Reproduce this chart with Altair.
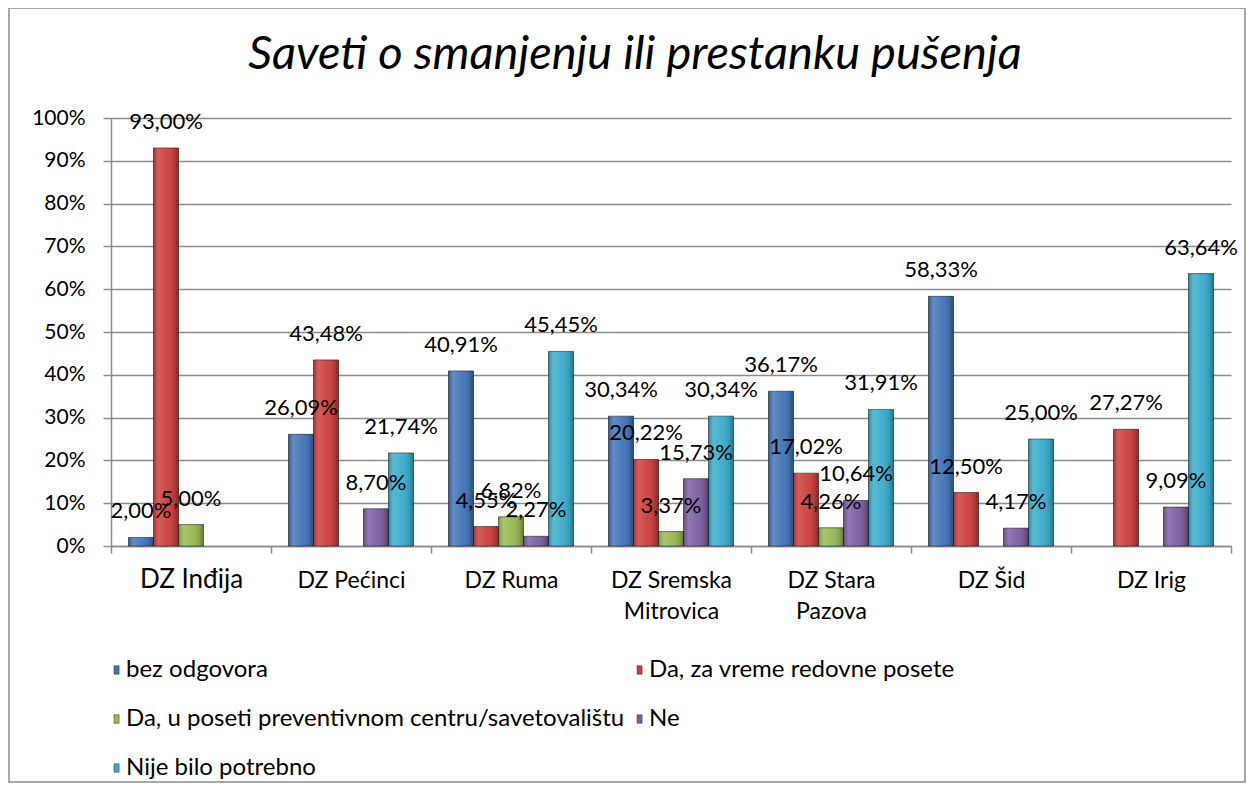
import altair as alt
import pandas as pd

categories = ["DZ Inđija", "DZ Pećinci", "DZ Ruma", "DZ Sremska Mitrovica",
              "DZ Stara Pazova", "DZ Šid", "DZ Irig"]
series = ["bez odgovora", "Da, za vreme redovne posete",
          "Da, u poseti preventivnom centru/savetovalištu", "Ne", "Nije bilo potrebno"]

bez_odgovora = [2.00, 26.09, 40.91, 30.34, 36.17, 58.33, 0.0]
da_redovne = [93.00, 43.48, 4.55, 20.22, 17.02, 12.50, 27.27]
da_preventivno = [5.00, 0.0, 6.82, 3.37, 4.26, 0.0, 0.0]
ne = [0.0, 8.70, 2.27, 15.73, 10.64, 4.17, 9.09]
nije_potrebno = [0.0, 21.74, 45.45, 30.34, 31.91, 25.00, 63.64]

colors = ["#4274b8", "#cb3f3c", "#98b954", "#7d5ea3", "#3aaccb"]
y_ticks = list(range(0, 101, 10))

rows = []
for s, vals in zip(series, [bez_odgovora, da_redovne, da_preventivno, ne, nije_potrebno]):
    for c, v in zip(categories, vals):
        rows.append({"cat": c, "series": s, "value": v})
df = pd.DataFrame(rows)

FONT = "Lato"
W, H = 1120, 428

x_enc = alt.X(
    "cat:N", sort=categories, title=None,
    scale=alt.Scale(domain=categories, paddingInner=0, paddingOuter=0),
    axis=alt.Axis(
        labelAngle=0, tickBand="extent", tickSize=7, tickColor="#8c8c8c",
        domainColor="#8c8c8c", domainWidth=1.5, tickWidth=1.5,
        labelFont=FONT, labelColor="#000000",
        labelFontSize={"condition": {"test": "datum.value == 'DZ Inđija'", "value": 26}, "value": 23},
        labelBaseline="alphabetic", labelPadding=34, labelLineHeight=31,
        labelExpr="length(split(datum.value, ' ')) > 2 ? [join(slice(split(datum.value, ' '), 0, 2), ' '), join(slice(split(datum.value, ' '), 2), ' ')] : datum.value",
    ),
)
xo_enc = alt.XOffset("series:N", sort=series,
                     scale=alt.Scale(domain=series, paddingInner=0, paddingOuter=0.7))
y_enc = alt.Y(
    "value:Q", title=None,
    scale=alt.Scale(domain=[0, 100], nice=False),
    axis=alt.Axis(
        values=y_ticks, labelExpr="datum.value + '%'", grid=True,
        gridColor="#8c8c8c", gridWidth=1.5, tickSize=8, tickColor="#8c8c8c",
        tickWidth=1.5, domainColor="#8c8c8c", domainWidth=1.5,
        labelFont=FONT, labelFontSize=21, labelColor="#000000", labelPadding=18,
    ),
)

base = alt.Chart(df).transform_filter("datum.value > 0")

bars = base.mark_bar(stroke="rgba(0,0,0,0.5)", strokeWidth=1).encode(
    x=x_enc, xOffset=xo_enc, y=y_enc,
    color=alt.Color(
        "series:N", sort=series,
        scale=alt.Scale(domain=series, range=colors),
        legend=alt.Legend(
            title=None, orient="none", legendX=-9, legendY=540, columns=2,
            direction="horizontal",
            columnPadding=-5, rowPadding=25, padding=0,
            labelFont=FONT, labelFontSize=24, labelColor="#000000", labelLimit=700,
            labelOffset=0,
            symbolType="M0,-0.5H0.6V0.5H0Z", symbolSize=289,
            symbolStrokeWidth=0.5, symbolStrokeColor="#333333",
        ),
    ),
)

shade = base.mark_bar(
    fill=alt.Gradient(
        gradient="linear", x1=0, x2=1, y1=0, y2=0,
        stops=[
            alt.GradientStop(color="rgba(0,0,0,0.2)", offset=0),
            alt.GradientStop(color="rgba(255,255,255,0.16)", offset=0.2),
            alt.GradientStop(color="rgba(255,255,255,0.05)", offset=0.55),
            alt.GradientStop(color="rgba(0,0,0,0.12)", offset=0.85),
            alt.GradientStop(color="rgba(0,0,0,0.35)", offset=1),
        ],
    ),
).encode(x=x_enc, xOffset=xo_enc, y=y_enc)

labels = base.transform_calculate(
    label="replace(format(datum.value, '.2f'), '.', ',') + '%'"
).mark_text(font=FONT, fontSize=22, dy=-19, baseline="alphabetic", color="#000000").encode(
    x=x_enc, xOffset=xo_enc, y=y_enc, text="label:N"
)

frame = alt.Chart(pd.DataFrame({"f": [0]})).mark_rect(
    fill=None, stroke="#8c8c8c", strokeWidth=1.5
).encode(x=alt.value(-102), x2=alt.value(W + 14), y=alt.value(-110), y2=alt.value(H + 236))

chart = alt.layer(frame, bars, shade, labels).properties(
    width=W, height=H,
    autosize=alt.AutoSizeParams(type="none"),
    padding={"left": 103, "top": 110, "right": 16, "bottom": 238},
    title=alt.TitleParams(
        "Saveti o smanjenju ili prestanku pušenja",
        font=FONT, fontSize=47, fontStyle="italic", fontWeight="normal",
        color="#000000", anchor="middle", frame="group", dx=-36,
        baseline="alphabetic", offset=0, dy=109,
    ),
).configure_view(stroke=None)

chart.save("out.html", embed_options={"renderer": "svg", "actions": False})
